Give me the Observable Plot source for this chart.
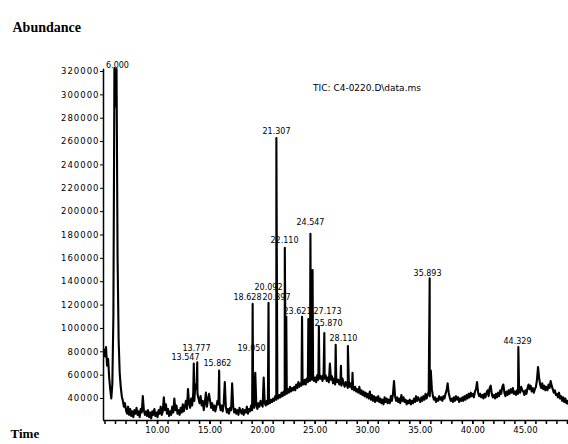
<!DOCTYPE html>
<html><head><meta charset="utf-8">
<script src="https://cdn.jsdelivr.net/npm/d3@7"></script>
<script src="https://cdn.jsdelivr.net/npm/@observablehq/plot@0.6"></script>
<style>
html,body{margin:0;padding:0;background:#fff;}
#chart svg{display:block;}
g[aria-label="y-axis tick label"]{font-size:8.5px;letter-spacing:1px;}
g[aria-label="x-axis tick label"]{font-size:8.5px;}
</style></head><body><div id="chart"></div>
<script>
// TIC trace: abundance (thousands) sampled every 0.1 min from 4.9 min
const traceStart = 4.9;
const traceStep = 0.1;
const traceK = [
  82,76,84,68,74,58,48,40,52,110,323,290,322,160,90,62,50,42,38,33,36,
  30,27,33,26,31,25,29,24,30,27,
  32,26,29,24,31,28,42,30,26,29,
  25,30,24,28,23,29,26,31,25,28,
  24,30,27,33,26,29,41,30,35,27,
  31,25,29,26,33,28,40,30,34,27,
  30,26,32,28,35,29,33,38,31,48,
  36,32,40,34,45,38,52,48,44,40,
  36,42,34,38,30,36,45,33,39,44,
  38,32,36,30,34,29,33,38,35,36,
  30,34,29,36,54,33,28,31,27,32,
  30,53,33,28,31,27,30,26,32,29,
  27,31,26,30,28,33,27,31,29,34,
  30,36,32,62,34,31,36,33,38,35,
  33,58,36,34,38,35,40,36,39,37,
  40,38,42,39,44,40,43,41,45,42,
  46,43,47,44,48,45,50,46,49,47,
  50,47,52,49,54,50,53,51,55,52,
  56,52,57,54,58,55,59,56,60,55,
  58,54,60,56,61,57,59,55,62,57,
  60,55,58,54,70,56,59,53,57,52,
  58,54,56,52,55,51,57,53,50,54,
  52,49,55,50,53,48,51,47,50,46,
  48,45,50,44,47,43,46,42,45,41,
  44,40,46,39,43,38,42,37,41,38,
  42,37,40,36,39,35,41,37,40,36,
  39,36,42,38,44,55,42,38,41,37,
  40,36,43,38,41,37,39,35,38,36,
  39,35,38,36,40,37,42,38,41,39,
  37,41,38,42,39,44,40,43,46,42,
  64,48,42,39,41,37,40,38,42,39,
  41,38,42,40,44,47,53,45,41,38,
  40,37,41,38,42,39,41,37,40,38,
  41,38,42,39,43,40,44,41,45,42,
  44,41,46,48,54,45,42,44,41,43,
  40,44,41,45,47,42,49,51,44,41,
  43,40,44,41,45,42,47,44,50,52,
  45,42,46,43,47,44,48,45,49,44,
  46,43,47,44,48,45,50,47,46,43,
  47,44,49,52,48,51,46,49,45,48,
  50,56,67,58,52,49,53,48,51,47,
  50,47,52,49,55,51,48,45,47,43,
  44,41,45,40,42,38,41,37,40,36,
  38,35
];

// Sharp peaks (apex time in min, apex abundance)
const peakTimes   = [13.45, 13.78, 15.862, 19.05, 20.56, 21.307, 22.11, 22.25, 23.75, 24.35, 24.547, 24.75, 25.35, 25.87, 26.95, 27.45, 28.11, 28.55, 35.893, 44.329];
const peakHeights = [70000, 71000, 64000, 121000, 122000, 263000, 169000, 110000, 110000, 108000, 181000, 150000, 102000, 96000, 86000, 68000, 85000, 62000, 143000, 84000];

// Peak labels as placed in the picture
const labelTexts = ["6.000", "21.307", "22.110", "24.547", "20.092", "18.628", "20.397", "19.050", "13.777", "13.547", "15.862", "23.621", "27.173", "25.870", "28.110", "35.893", "44.329"];
const labelTimes = [6.19, 21.32, 22.08, 24.55, 20.56, 18.56, 21.32, 18.94, 13.71, 12.66, 15.7, 23.32, 26.17, 26.27, 27.69, 35.69, 44.25];
const labelAbund = [325000, 268500, 175000, 190700, 135000, 126500, 126500, 82800, 82800, 75100, 70000, 114500, 114500, 104200, 91400, 147000, 88800];

const yTicks = [40000, 60000, 80000, 100000, 120000, 140000, 160000, 180000, 200000, 220000, 240000, 260000, 280000, 300000, 320000];
const xLabelTicks = [10, 15, 20, 25, 30, 35, 40, 45];
const xMinorTicks = [5,6,7,8,9,10,11,12,13,14,15,16,17,18,19,20,21,22,23,24,25,26,27,28,29,30,31,32,33,34,35,36,37,38,39,40,41,42,43,44,45,46,47,48,49];

const xDomain = [4.86, 49.1];
const yDomain = [21160, 329420];

const trace = traceK.map((k, i) => ({t: +(traceStart + i * traceStep).toFixed(2), v: k * 1000}));
peakTimes.forEach((t, i) => trace.push({t, v: peakHeights[i]}));
trace.sort((a, b) => a.t - b.t);

const labels = labelTexts.map((text, i) => ({text, t: labelTimes[i], v: labelAbund[i]}));

const chart = Plot.plot({
  width: 568,
  height: 444,
  marginLeft: 103,
  marginRight: 0,
  marginTop: 60,
  marginBottom: 24,
  style: {fontFamily: "DejaVu Sans", background: "#fff", color: "#000"},
  x: {domain: xDomain, label: null},
  y: {domain: yDomain, label: null},
  marks: [
    Plot.axisY({ticks: yTicks, tickFormat: d3.format("d"), tickSize: 3, tickPadding: 1, label: null}),
    Plot.axisX({ticks: xMinorTicks, tickSize: 4, tickFormat: () => "", label: null, strokeWidth: 1.5}),
    Plot.axisX({ticks: xLabelTicks, tickSize: 4, tickPadding: 2, tickFormat: d => d.toFixed(2), label: null, strokeWidth: 1.5}),
    Plot.ruleY([yDomain[0]], {stroke: "black", strokeWidth: 1.5}),
    Plot.ruleX([xDomain[0]], {y1: yDomain[0], y2: 322000, stroke: "black", strokeWidth: 1.5}),
    Plot.line(trace, {x: "t", y: "v", stroke: "black", strokeWidth: 2.1}),
    Plot.text(labels, {x: "t", y: "v", text: "text", fontSize: 8, fill: "black"}),
    Plot.text(["TIC: C4-0220.D\\data.ms"], {frameAnchor: "top", dx: 31, dy: 24, fontSize: 9, fill: "black"}),
    Plot.text(["Abundance"], {frameAnchor: "top-left", dx: -91, dy: -38, textAnchor: "start", fontSize: 14, fontWeight: "bold", fontFamily: "Liberation Serif", fill: "black"}),
    Plot.text(["Time"], {frameAnchor: "bottom-left", dx: -93, dy: 17, textAnchor: "start", fontSize: 13, fontWeight: "bold", fontFamily: "Liberation Serif", fill: "black"})
  ]
});
document.getElementById("chart").appendChild(chart);
</script>
</body></html>
